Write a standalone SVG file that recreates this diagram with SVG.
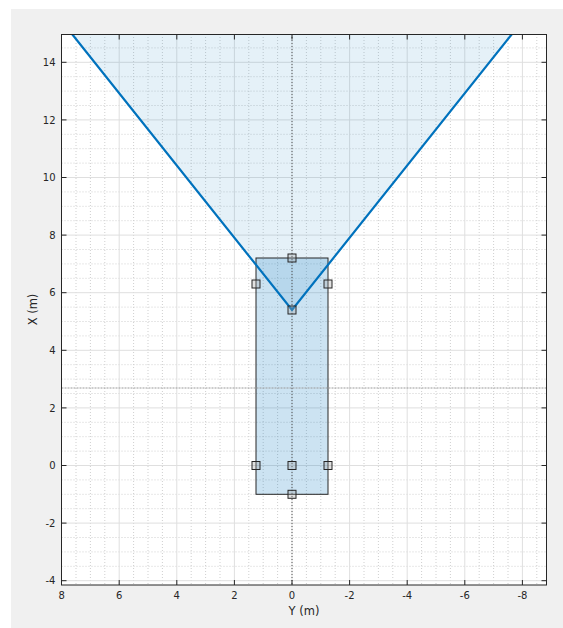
<svg xmlns="http://www.w3.org/2000/svg" width="563" height="628" viewBox="0 0 563 628">
<style>
.maj{stroke:#dfdfdf;stroke-width:1;fill:none}
.min{stroke:#cfcfcf;stroke-width:1;stroke-dasharray:1 2;fill:none}
.ax{stroke:#262626;stroke-width:1;fill:none}
.tk{stroke:#262626;stroke-width:1}
.tl{font-family:"DejaVu Sans",sans-serif;font-size:10px;fill:#262626}
.lb{font-family:"DejaVu Sans",sans-serif;font-size:11.5px;fill:#262626}
.mk{fill:#a0a0a0;fill-opacity:0.3;stroke:#262626;stroke-width:1}
</style>
<defs>
<clipPath id="plot"><rect x="61.5" y="34" width="485.2" height="551"/></clipPath>
</defs>
<rect x="11" y="9" width="552" height="619" fill="#f0f0f0"/>
<rect x="61.5" y="34" width="485.2" height="551" fill="#ffffff"/>
<g id="grid" clip-path="url(#plot)">
<g class="min">
<path d="M76,34V585M90.4,34V585M104.8,34V585M133.6,34V585M148,34V585M162.4,34V585M191.2,34V585M205.6,34V585M220,34V585M248.8,34V585M263.2,34V585M277.6,34V585M306.4,34V585M320.8,34V585M335.2,34V585M364,34V585M378.4,34V585M392.8,34V585M421.6,34V585M436,34V585M450.4,34V585M479.2,34V585M493.6,34V585M508,34V585M536.8,34V585"/>
<path d="M61.5,47.9H547M61.5,76.7H547M61.5,91.1H547M61.5,105.5H547M61.5,134.3H547M61.5,148.7H547M61.5,163.1H547M61.5,191.9H547M61.5,206.3H547M61.5,220.7H547M61.5,249.5H547M61.5,263.9H547M61.5,278.3H547M61.5,307.1H547M61.5,321.5H547M61.5,335.9H547M61.5,364.7H547M61.5,379.1H547M61.5,393.5H547M61.5,422.3H547M61.5,436.7H547M61.5,451.1H547M61.5,479.9H547M61.5,494.3H547M61.5,508.7H547M61.5,537.5H547M61.5,551.9H547M61.5,566.3H547"/>
</g>
<g class="maj">
<path d="M119.2,34V585M176.8,34V585M234.4,34V585M292,34V585M349.6,34V585M407.2,34V585M464.8,34V585M522.4,34V585"/>
<path d="M61.5,62.3H547M61.5,119.9H547M61.5,177.5H547M61.5,235.1H547M61.5,292.7H547M61.5,350.3H547M61.5,407.9H547M61.5,465.5H547M61.5,523.1H547M61.5,580.7H547"/>
</g>
</g>
<g id="coverage" clip-path="url(#plot)">
<polygon points="72,34 292,310 512,34" fill="#0072bd" fill-opacity="0.1" stroke="none"/>
</g>
<g id="vehicle">
<rect x="256" y="258" width="72" height="236.3" fill="#0072bd" fill-opacity="0.2" stroke="#262626" stroke-width="1"/>
</g>
<g id="reference-lines" clip-path="url(#plot)">
<line x1="292" y1="34" x2="292" y2="585" stroke="#555555" stroke-width="1" stroke-dasharray="1 2"/>
<line x1="61.5" y1="388" x2="547" y2="388" stroke="#9a9a9a" stroke-width="1.2" stroke-dasharray="2 1"/>
</g>
<g id="connectors" clip-path="url(#plot)">
<polyline points="72,34 292,310 512,34" fill="none" stroke="#0072bd" stroke-width="2.2" stroke-linejoin="miter"/>
</g>
<g id="sensors">
<rect class="mk" x="288" y="254" width="8" height="8"/>
<rect class="mk" x="252" y="280" width="8" height="8"/>
<rect class="mk" x="324" y="280" width="8" height="8"/>
<rect class="mk" x="288" y="306" width="8" height="8"/>
<rect class="mk" x="252" y="461.5" width="8" height="8"/>
<rect class="mk" x="288" y="461.5" width="8" height="8"/>
<rect class="mk" x="324" y="461.5" width="8" height="8"/>
<rect class="mk" x="288" y="490.3" width="8" height="8"/>
</g>
<g id="axes">
<rect class="ax" x="61.5" y="34.5" width="485" height="550.5"/>
<path class="tk" d="M61.5,62.3h5M61.5,119.9h5M61.5,177.5h5M61.5,235.1h5M61.5,292.7h5M61.5,350.3h5M61.5,407.9h5M61.5,465.5h5M61.5,523.1h5M61.5,580.7h5"/>
<path class="tk" d="M546.5,62.3h-5M546.5,119.9h-5M546.5,177.5h-5M546.5,235.1h-5M546.5,292.7h-5M546.5,350.3h-5M546.5,407.9h-5M546.5,465.5h-5M546.5,523.1h-5M546.5,580.7h-5"/>
<path class="tk" d="M119.2,585v-5M176.8,585v-5M234.4,585v-5M292,585v-5M349.6,585v-5M407.2,585v-5M464.8,585v-5M522.4,585v-5"/>
<path class="tk" d="M119.2,34.5v5M176.8,34.5v5M234.4,34.5v5M292,34.5v5M349.6,34.5v5M407.2,34.5v5M464.8,34.5v5M522.4,34.5v5"/>
</g>
<g id="ytick-labels" class="tl" text-anchor="end">
<text x="55.5" y="66">14</text>
<text x="55.5" y="123.6">12</text>
<text x="55.5" y="181.2">10</text>
<text x="55.5" y="238.8">8</text>
<text x="55.5" y="296.4">6</text>
<text x="55.5" y="354">4</text>
<text x="55.5" y="411.6">2</text>
<text x="55.5" y="469.2">0</text>
<text x="55.5" y="526.8">-2</text>
<text x="55.5" y="584.4">-4</text>
</g>
<g id="xtick-labels" class="tl" text-anchor="middle">
<text x="61.6" y="599.3">8</text>
<text x="119.2" y="599.3">6</text>
<text x="176.8" y="599.3">4</text>
<text x="234.4" y="599.3">2</text>
<text x="292" y="599.3">0</text>
<text x="349.6" y="599.3">-2</text>
<text x="407.2" y="599.3">-4</text>
<text x="464.8" y="599.3">-6</text>
<text x="522.4" y="599.3">-8</text>
</g>
<g id="axis-labels" class="lb" text-anchor="middle">
<text x="304" y="615">Y (m)</text>
<text x="36.7" y="309.5" transform="rotate(-90 36.7 309.5)">X (m)</text>
</g>
</svg>
